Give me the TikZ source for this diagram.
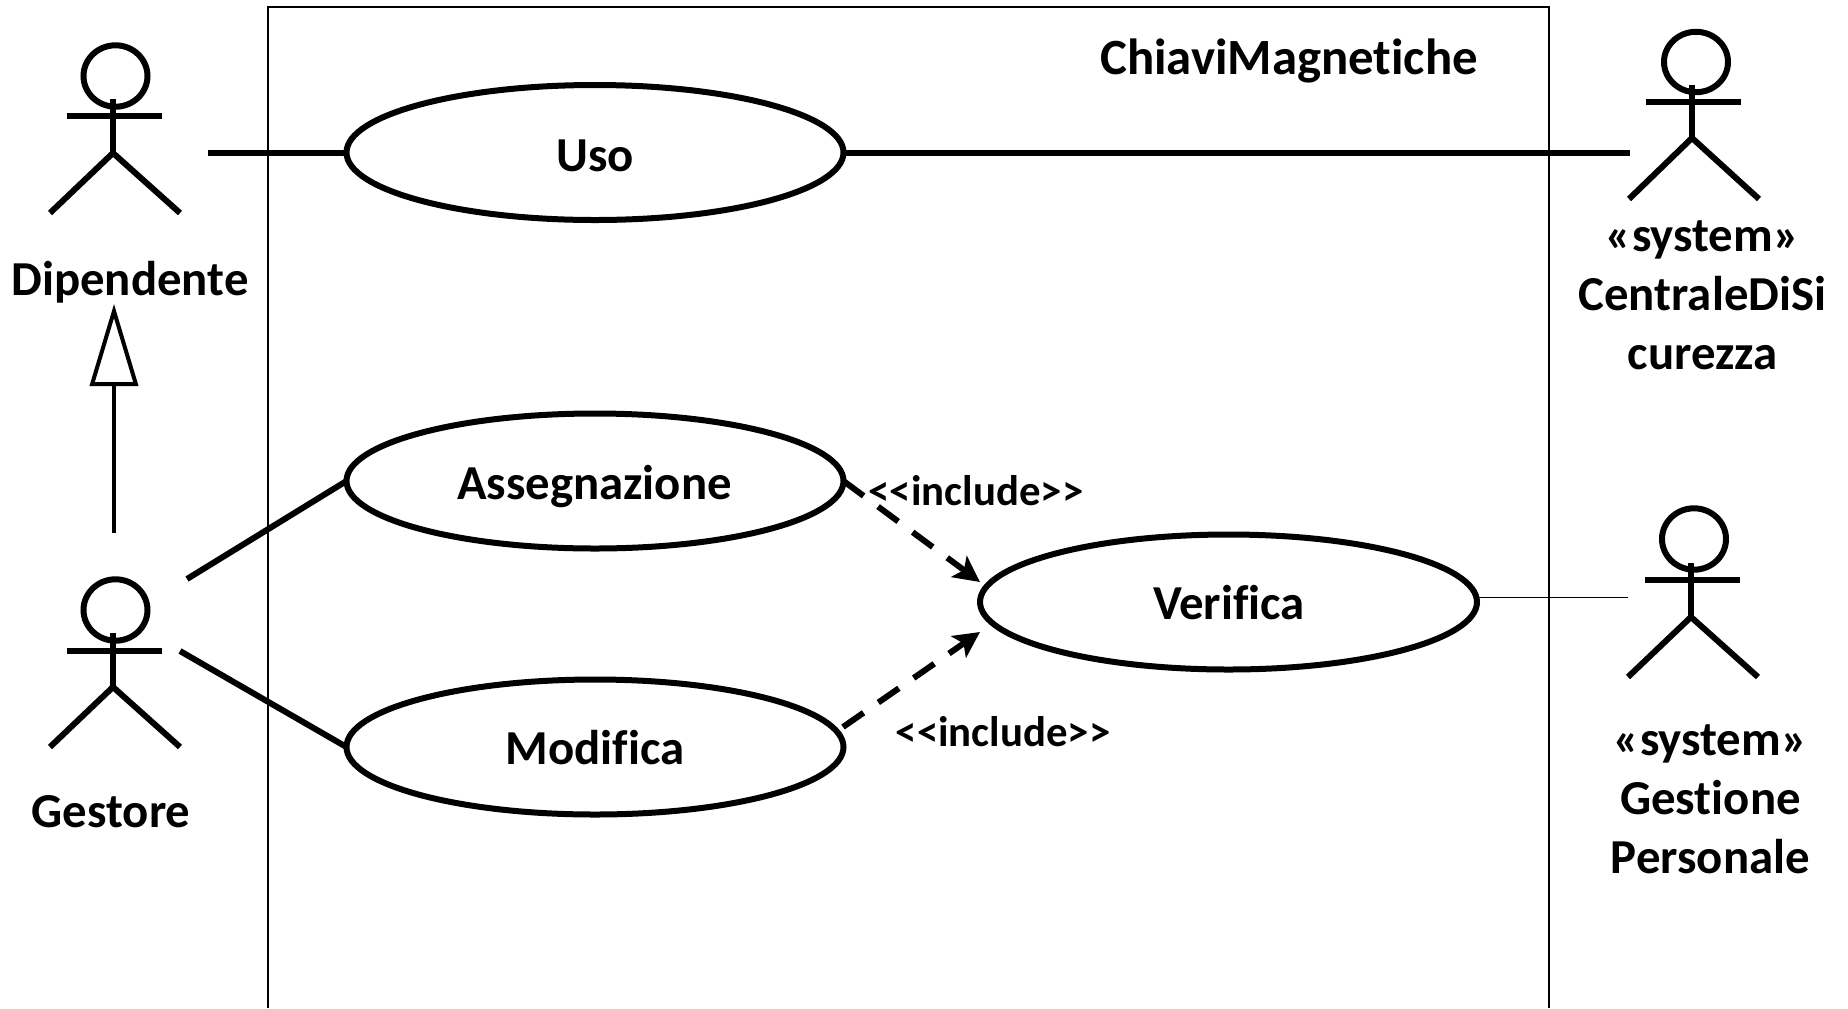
\documentclass[tikz,border=0pt]{standalone}
\usepackage{fontspec}
\setmainfont{Carlito}[Ligatures={NoCommon}]
\usetikzlibrary{arrows.meta,shapes.geometric}
\newcommand{\stickman}[9]{%
  % #1 name, #2 head x, #3 head y, #4 head ry, #5 body x, #6 body top, #7 arm y, #8 hip y, #9 foot y
  \node[headshape,minimum height=#4*1pt+0.7pt] (#1) at (#2,#3) {};
  \draw[actorline] (#5,#6) -- (#5,#8);
  \draw[actorline] (#5-46.5,#7) -- (#5+48.5,#7);
  \draw[actorline] (#5-63,#9) -- (#5,#8) -- (#5+67,#9);
}
\begin{document}
\begin{tikzpicture}[x=0.5pt,y=-0.5pt,
  actorline/.style={line width=3pt,line join=miter},
  headshape/.style={draw,line width=3pt,ellipse,inner sep=0pt,outer sep=0pt,minimum width=32pt},
  usecase/.style={draw,line width=3pt,ellipse,inner sep=0pt,outer sep=0pt,minimum width=248.5pt,minimum height=67.5pt},
  assoc/.style={line width=3pt},
  thinassoc/.style={line width=0.8pt},
  generalize/.style={line width=2pt,-{Triangle[open,length=41pt,width=24pt,line width=2pt]}},
  includes/.style={line width=3pt,dash pattern=on 12.5pt off 9pt,-{Stealth[length=13pt,width=13pt,inset=3pt]}},
  label/.style={font=\fontsize{24.4}{29.5}\selectfont\bfseries,align=center,inner sep=0pt},
  inclabel/.style={font=\fontsize{21.4}{25}\selectfont\bfseries,inner sep=0pt}]
\useasboundingbox (0,0) rectangle (1848,1008);
\coordinate (rbl) at (267.5,1008);
\coordinate (rtl) at (267.5,7);
\coordinate (rtr) at (1549,7);
\coordinate (rbr) at (1549,1008);
\draw[line width=1pt] (rbl) -- (rtl) -- (rtr) -- (rbr);
\stickman{dipendente}{115.5}{76}{30}{113}{99}{116}{153}{213}
\stickman{gestore}{115.5}{610}{30}{113}{633}{651}{687}{747}
\stickman{centrale}{1696}{62}{29.5}{1692}{85}{102}{138}{199}
\stickman{gestione}{1694}{539}{30}{1691}{563}{580}{617}{677}
\node[usecase] (uso) at (595,152.5) {};
\node[usecase] (assegnazione) at (595,481) {};
\node[usecase] (modifica) at (595,747) {};
\node[usecase] (verifica) at (1228.5,602) {};
\node[label] (tuso) at (595,155.5) {Uso};
\node[label] (tass) at (594.5,487) {Assegnazione};
\node[label] (tmod) at (595,748) {Modifica};
\node[label] (tver) at (1229,603) {Verifica};
\node[label,font=\fontsize{25.4}{29.5}\selectfont\bfseries] (tsys) at (1289,60.5) {ChiaviMagnetiche};
\node[label] (tdip) at (130,282) {Dipendente};
\node[label] (tges) at (111,812) {Gestore};
\node[label] (tcen) at (1702.5,295) {«system»\\CentraleDiSi\\curezza};
\node[label] (tper) at (1710.5,799) {«system»\\Gestione\\Personale};
\node[inclabel] (inca) at (976,491) {<\kern0pt<include>\kern0pt>};
\node[inclabel] (incb) at (1003,732) {<\kern0pt<include>\kern0pt>};
\coordinate (dipEnd) at (208,152.5);
\coordinate (cenEnd) at (1630,152.5);
\coordinate (gesA) at (187,579);
\coordinate (gesB) at (180,651);
\coordinate (genFrom) at (114,533);
\coordinate (genTo) at (114,304);
\coordinate (verA) at (980,582);
\coordinate (verB) at (980,632);
\coordinate (verOut) at (1477,597.5);
\coordinate (gestEnd) at (1628,597.5);
\coordinate (modOut) at (843,727);
\draw[assoc] (dipEnd) -- (uso.west);
\draw[assoc] (uso.east) -- (cenEnd);
\draw[assoc] (gesA) -- (assegnazione.west);
\draw[assoc] (gesB) -- (modifica.west);
\draw[thinassoc] (verOut) -- (gestEnd);
\draw[generalize] (genFrom) -- (genTo);
\draw[includes] (assegnazione.east) -- (verA);
\draw[includes] (modOut) -- (verB);
\end{tikzpicture}
\end{document}
